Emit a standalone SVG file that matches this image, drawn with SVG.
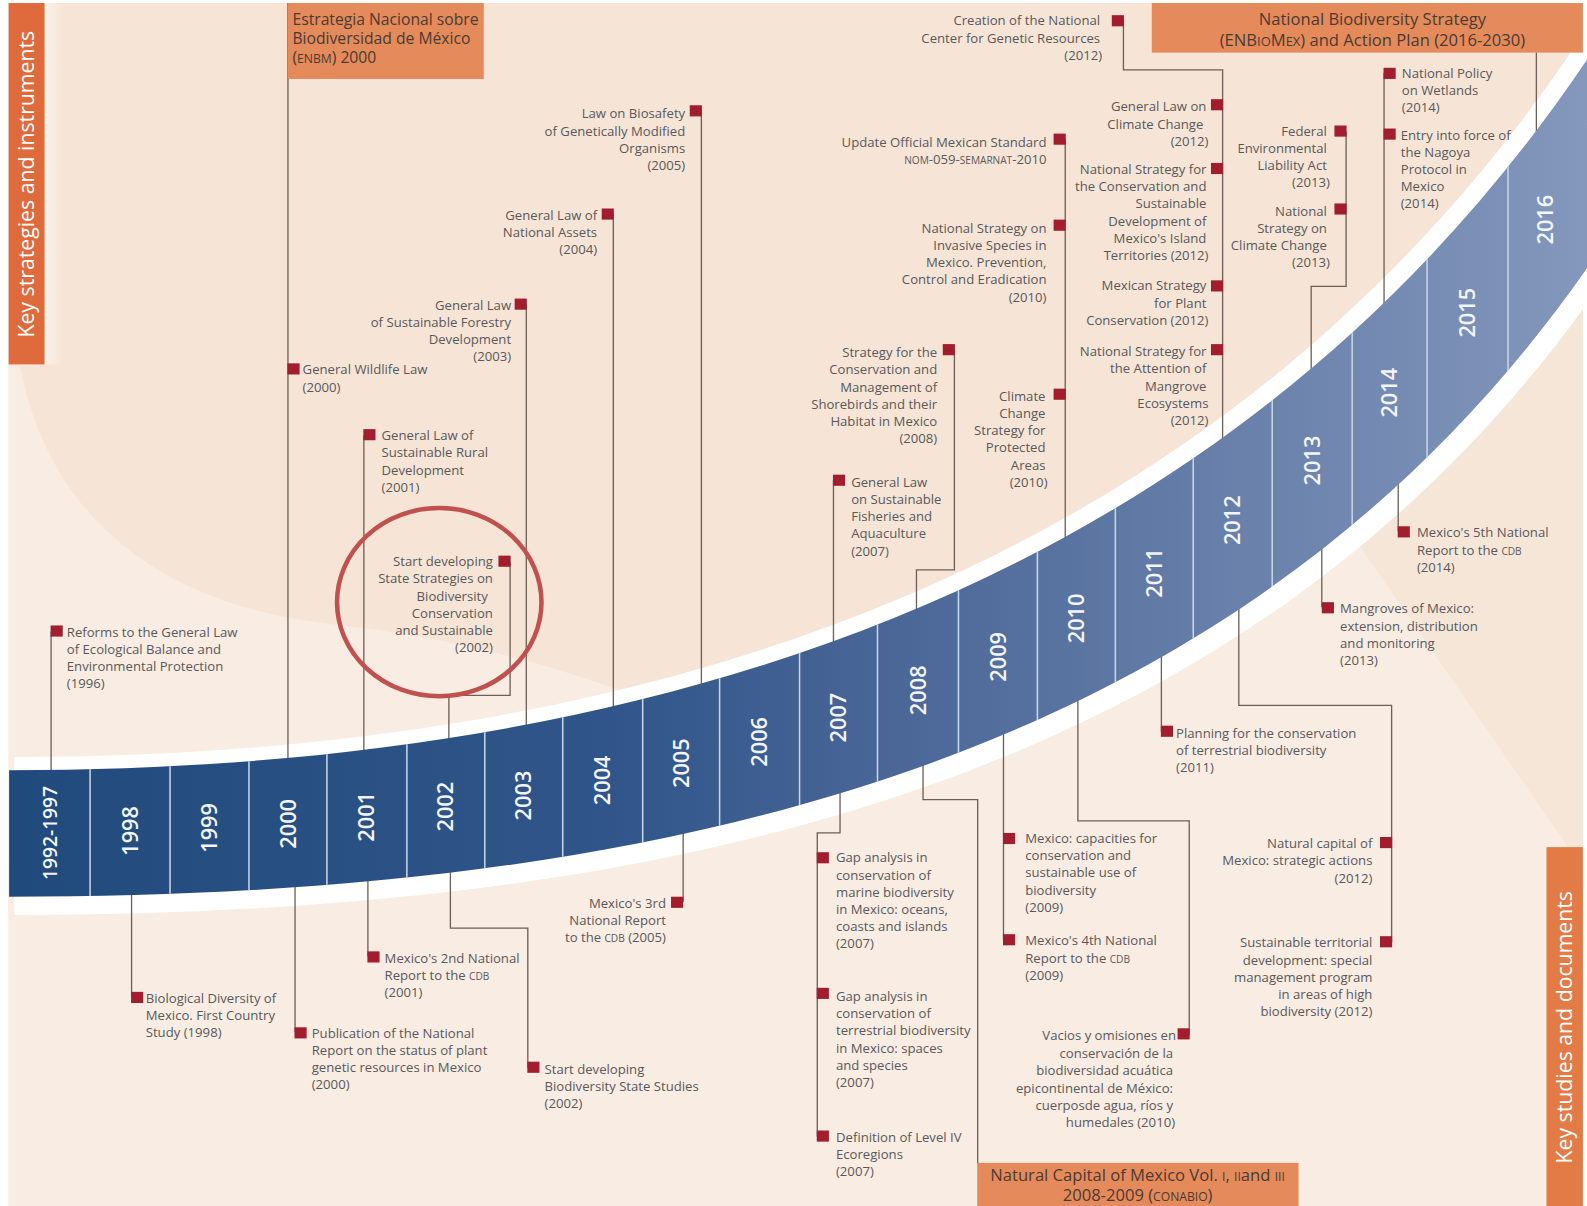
<svg xmlns="http://www.w3.org/2000/svg" width="1587" height="1206" viewBox="0 0 1587 1206">
<defs>
<style>
.t{font-family:'Open Sans','Liberation Sans',sans-serif;font-size:13px;fill:#58585a}
.e{text-anchor:end}
.s{font-size:10px}
.bs{font-size:12px}
.bs2{font-size:12.8px}
.sq{fill:#a21d2e}
.ln{fill:none;stroke:#6b5f57;stroke-width:1.3}
.box{fill:#e58a5b}
.bt{font-family:'Open Sans','Liberation Sans',sans-serif;font-size:15.5px;fill:#4a3b33}
.bt2{font-family:'Open Sans','Liberation Sans',sans-serif;font-size:16.4px;fill:#4a3b33;text-anchor:middle}
.yr{font-family:'Open Sans','Liberation Sans',sans-serif;font-size:21.5px;font-weight:600;fill:#f1f4f9;text-anchor:middle}
.side{font-family:'Open Sans','Liberation Sans',sans-serif;font-size:21px;fill:#ffffff;text-anchor:middle}
.dv{stroke:#c9d7ea;stroke-width:1.5}
.light{fill:#f8ece3}
</style>
<linearGradient id="bandGrad" gradientUnits="userSpaceOnUse" x1="9" y1="0" x2="1568" y2="0">
<stop offset="0" stop-color="#214a7c"/>
<stop offset="0.38" stop-color="#30558a"/>
<stop offset="0.575" stop-color="#4c6898"/>
<stop offset="0.775" stop-color="#6880aa"/>
<stop offset="1" stop-color="#8497bc"/>
</linearGradient>
<linearGradient id="shade" x1="0" y1="0" x2="1" y2="0">
<stop offset="0" stop-color="#fbf3ec" stop-opacity="0.9"/>
<stop offset="1" stop-color="#fbf3ec" stop-opacity="0"/>
</linearGradient>
<clipPath id="bandClip"><path d="M9,761 C692,761 1235,553 1568,59 L1568,265 C1235,741 692,886 9,886 Z"/></clipPath>
</defs>
<rect x="0" y="0" width="1587" height="1206" fill="#ffffff"/>
<g transform="scale(1.0121)">
<g id="background">
<rect x="8.5" y="3" width="1555.5" height="1189" fill="#f6e5d6"/>
<path class="light" d="M8.5,362 L20,362 C50,520 170,600 330,617 C450,630 560,660 660,700 L660,900 L8.5,900 Z"/>
<path class="light" d="M8.5,850 L600,800 L900,700 L1200,540 L1400,360 L1564,150 V1192 H8.5 Z"/>
<path d="M1330,520 L1564,858 L1564,200 Z" fill="#f6e6d8"/>
<rect x="44" y="3" width="18" height="357" fill="url(#shade)"/>
</g>
<path id="band-outline" d="M14,748 C692,747 1235,535 1568,28 L1568,300 C1235,762 692,904 14,904 Z" fill="#ffffff"/>
<g id="connectors" class="ln">
<path d="M50.5,624 V823"/>
<path d="M284.5,3 V814"/>
<path d="M359.5,430 V807"/>
<path d="M504,555 V687 H443.5 V797"/>
<path d="M520,300 V786"/>
<path d="M606,211 V771"/>
<path d="M693,109 V754"/>
<path d="M823.5,474 V709"/>
<path d="M943,346 V563 H905.5 V682"/>
<path d="M1052.5,137 V611"/>
<path d="M1110,20 V69 H1208 V514"/>
<path d="M1330,130 V283 H1295.5 V455"/>
<path d="M1367.5,72 V388"/>
<path d="M1518,52 V217"/>
<path d="M130,821 V985"/>
<path d="M291.5,814 V1020"/>
<path d="M363.5,807 V945"/>
<path d="M445,797 V917 H521.5 V1055"/>
<path d="M675,754 V891"/>
<path d="M830,709 V823 H807.5 V1123"/>
<path d="M912,682 V790 H966 V1149"/>
<path d="M991.5,649 V929"/>
<path d="M1065,611 V811 H1175 V1022"/>
<path d="M1147.5,566 V723"/>
<path d="M1224,514 V697 H1375 V931"/>
<path d="M1306,455 V600"/>
<path d="M1381.5,388 V525"/>
</g>
<g id="timeline">
<path d="M9,761 C692,761 1235,553 1568,59 L1568,265 C1235,741 692,886 9,886 Z" fill="url(#bandGrad)"/>
<g clip-path="url(#bandClip)" class="dv">
<line x1="89" y1="0" x2="89" y2="1206"/>
<line x1="168" y1="0" x2="168" y2="1206"/>
<line x1="246" y1="0" x2="246" y2="1206"/>
<line x1="323" y1="0" x2="323" y2="1206"/>
<line x1="402" y1="0" x2="402" y2="1206"/>
<line x1="479" y1="0" x2="479" y2="1206"/>
<line x1="556" y1="0" x2="556" y2="1206"/>
<line x1="635" y1="0" x2="635" y2="1206"/>
<line x1="711" y1="0" x2="711" y2="1206"/>
<line x1="790" y1="0" x2="790" y2="1206"/>
<line x1="867" y1="0" x2="867" y2="1206"/>
<line x1="947" y1="0" x2="947" y2="1206"/>
<line x1="1025" y1="0" x2="1025" y2="1206"/>
<line x1="1102" y1="0" x2="1102" y2="1206"/>
<line x1="1179" y1="0" x2="1179" y2="1206"/>
<line x1="1257" y1="0" x2="1257" y2="1206"/>
<line x1="1336" y1="0" x2="1336" y2="1206"/>
<line x1="1410" y1="0" x2="1410" y2="1206"/>
<line x1="1490" y1="0" x2="1490" y2="1206"/>
</g>
<text class="yr" style="font-size:19px" transform="translate(49,823) rotate(-90)" y="7">1992-1997</text>
<text class="yr" transform="translate(128.5,821) rotate(-90)" y="7.5">1998</text>
<text class="yr" transform="translate(207,818) rotate(-90)" y="7.5">1999</text>
<text class="yr" transform="translate(284.5,814) rotate(-90)" y="7.5">2000</text>
<text class="yr" transform="translate(362.5,807) rotate(-90)" y="7.5">2001</text>
<text class="yr" transform="translate(440.5,797) rotate(-90)" y="7.5">2002</text>
<text class="yr" transform="translate(517.5,786) rotate(-90)" y="7.5">2003</text>
<text class="yr" transform="translate(595.5,771) rotate(-90)" y="7.5">2004</text>
<text class="yr" transform="translate(673,754) rotate(-90)" y="7.5">2005</text>
<text class="yr" transform="translate(750.5,733) rotate(-90)" y="7.5">2006</text>
<text class="yr" transform="translate(828.5,709) rotate(-90)" y="7.5">2007</text>
<text class="yr" transform="translate(907,682) rotate(-90)" y="7.5">2008</text>
<text class="yr" transform="translate(986,649) rotate(-90)" y="7.5">2009</text>
<text class="yr" transform="translate(1063.5,611) rotate(-90)" y="7.5">2010</text>
<text class="yr" transform="translate(1140.5,566) rotate(-90)" y="7.5">2011</text>
<text class="yr" transform="translate(1218,514) rotate(-90)" y="7.5">2012</text>
<text class="yr" transform="translate(1296.5,455) rotate(-90)" y="7.5">2013</text>
<text class="yr" transform="translate(1373,388) rotate(-90)" y="7.5">2014</text>
<text class="yr" transform="translate(1450,309) rotate(-90)" y="7.5">2015</text>
<text class="yr" transform="translate(1527,217) rotate(-90)" y="7.5">2016</text>
</g>
<g id="side-strategies"><rect x="8.5" y="3" width="35.5" height="357" fill="#df6a3b"/><text class="side" transform="translate(26.5,182) rotate(-90)" y="7.5">Key strategies and instruments</text></g>
<g id="side-studies"><rect x="1528" y="837" width="36" height="355" fill="#e27b46"/><text class="side" transform="translate(1546,1015) rotate(-90)" y="7.5">Key studies and documents</text></g>
<g id="box-enbm"><rect class="box" x="284.5" y="3" width="193.5" height="75"/><text class="bt" x="289" y="24.5"><tspan x="289">Estrategia Nacional sobre</tspan><tspan x="289" dy="19">Biodiversidad de México</tspan><tspan x="289" dy="19">(<tspan class="bs">ENBM</tspan>) 2000</tspan></text></g>
<g id="box-enbiomex"><rect class="box" x="1138" y="3" width="426" height="49"/><text class="bt2" x="1356" y="25"><tspan x="1356">National Biodiversity Strategy</tspan><tspan x="1356" dy="20">(ENB<tspan class="bs2">IO</tspan>M<tspan class="bs2">EX</tspan>) and Action Plan (2016-2030)</tspan></text></g>
<g id="box-natural-capital"><rect class="box" x="965.5" y="1149" width="317.5" height="43"/><text class="bt2" x="1124" y="1166.5"><tspan x="1124">Natural Capital of Mexico Vol. <tspan class="bs">I</tspan>, <tspan class="bs">II</tspan>and <tspan class="bs">III</tspan></tspan><tspan x="1124" dy="20">2008-2009 (<tspan class="bs">CONABIO</tspan>)</tspan></text></g>
<g id="n-reforms-1996"><rect class="sq" x="50" y="618" width="12" height="11"/><text class="t" x="66" y="629"><tspan x="66">Reforms to the General Law</tspan><tspan x="66" dy="17">of Ecological Balance and</tspan><tspan x="66" dy="17">Environmental Protection</tspan><tspan x="66" dy="17">(1996)</tspan></text></g>
<g id="n-wildlife-2000"><rect class="sq" x="284" y="359" width="12" height="11"/><text class="t" x="299" y="370"><tspan x="299">General Wildlife Law</tspan><tspan x="299" dy="17">(2000)</tspan></text></g>
<g id="n-rural-2001"><rect class="sq" x="359" y="424" width="12" height="11"/><text class="t" x="377" y="435"><tspan x="377">General Law of</tspan><tspan x="377" dy="17">Sustainable Rural</tspan><tspan x="377" dy="17">Development</tspan><tspan x="377" dy="17">(2001)</tspan></text></g>
<g id="n-state-strategies-2002"><rect class="sq" x="492.5" y="549" width="12" height="11"/><text class="t e" x="487" y="559.5"><tspan x="487">Start developing</tspan><tspan x="487" dy="17">State Strategies on</tspan><tspan x="482" dy="17">Biodiversity</tspan><tspan x="487" dy="17">Conservation</tspan><tspan x="487" dy="17">and Sustainable</tspan><tspan x="487" dy="17">(2002)</tspan></text></g>
<g id="n-forestry-2003"><rect class="sq" x="508.5" y="295" width="12" height="11"/><text class="t e" x="505" y="306"><tspan x="505">General Law</tspan><tspan x="505" dy="17">of Sustainable Forestry</tspan><tspan x="505" dy="17">Development</tspan><tspan x="505" dy="17">(2003)</tspan></text></g>
<g id="n-assets-2004"><rect class="sq" x="594.5" y="206" width="12" height="11"/><text class="t e" x="590" y="217"><tspan x="590">General Law of</tspan><tspan x="590" dy="17">National Assets</tspan><tspan x="590" dy="17">(2004)</tspan></text></g>
<g id="n-biosafety-2005"><rect class="sq" x="681.5" y="104" width="12" height="11"/><text class="t e" x="677" y="117"><tspan x="677">Law on Biosafety</tspan><tspan x="677" dy="17">of Genetically Modified</tspan><tspan x="677" dy="17">Organisms</tspan><tspan x="677" dy="17">(2005)</tspan></text></g>
<g id="n-fisheries-2007"><rect class="sq" x="823" y="469" width="12" height="11"/><text class="t" x="841" y="481"><tspan x="841">General Law</tspan><tspan x="841" dy="17">on Sustainable</tspan><tspan x="841" dy="17">Fisheries and</tspan><tspan x="841" dy="17">Aquaculture</tspan><tspan x="841" dy="17">(2007)</tspan></text></g>
<g id="n-shorebirds-2008"><rect class="sq" x="931.5" y="340" width="12" height="11"/><text class="t e" x="926" y="353"><tspan x="926">Strategy for the</tspan><tspan x="926" dy="17">Conservation and</tspan><tspan x="926" dy="17">Management of</tspan><tspan x="926" dy="17">Shorebirds and their</tspan><tspan x="926" dy="17">Habitat in Mexico</tspan><tspan x="926" dy="17">(2008)</tspan></text></g>
<g id="n-nom-059"><rect class="sq" x="1041" y="132" width="12" height="11"/><text class="t e" x="1034" y="145"><tspan x="1034">Update Official Mexican Standard</tspan><tspan x="1034" dy="17"><tspan class="s">NOM</tspan>-059-<tspan class="s">SEMARNAT</tspan>-2010</tspan></text></g>
<g id="n-invasive-2010"><rect class="sq" x="1041" y="217" width="12" height="11"/><text class="t e" x="1034" y="230"><tspan x="1034">National Strategy on</tspan><tspan x="1034" dy="17">Invasive Species in</tspan><tspan x="1034" dy="17">Mexico. Prevention,</tspan><tspan x="1034" dy="17">Control and Eradication</tspan><tspan x="1034" dy="17">(2010)</tspan></text></g>
<g id="n-climate-pa-2010"><rect class="sq" x="1041" y="384" width="12" height="11"/><text class="t e" x="1033" y="396"><tspan x="1033">Climate</tspan><tspan x="1033" dy="17">Change</tspan><tspan x="1033" dy="17">Strategy for</tspan><tspan x="1033" dy="17">Protected</tspan><tspan x="1033" dy="17">Areas</tspan><tspan x="1035" dy="17">(2010)</tspan></text></g>
<g id="n-genetic-2012"><rect class="sq" x="1098.5" y="15" width="12" height="11"/><text class="t e" x="1087" y="25"><tspan x="1087">Creation of the National</tspan><tspan x="1087" dy="17">Center for Genetic Resources</tspan><tspan x="1089" dy="17">(2012)</tspan></text></g>
<g id="n-climate-law-2012"><rect class="sq" x="1196.5" y="98" width="12" height="11"/><text class="t e" x="1192" y="110"><tspan x="1192">General Law on</tspan><tspan x="1189" dy="17">Climate Change</tspan><tspan x="1194" dy="17">(2012)</tspan></text></g>
<g id="n-island-2012"><rect class="sq" x="1196.5" y="161" width="12" height="11"/><text class="t e" x="1192" y="172"><tspan x="1192">National Strategy for</tspan><tspan x="1192" dy="17">the Conservation and</tspan><tspan x="1192" dy="17">Sustainable</tspan><tspan x="1192" dy="17">Development of</tspan><tspan x="1192" dy="17">Mexico's Island</tspan><tspan x="1194" dy="17">Territories  (2012)</tspan></text></g>
<g id="n-plant-2012"><rect class="sq" x="1196.5" y="277" width="12" height="11"/><text class="t e" x="1192" y="287"><tspan x="1192">Mexican Strategy</tspan><tspan x="1192" dy="17">for Plant</tspan><tspan x="1194" dy="17">Conservation  (2012)</tspan></text></g>
<g id="n-mangrove-strategy-2012"><rect class="sq" x="1196.5" y="340" width="12" height="11"/><text class="t e" x="1192" y="352"><tspan x="1192">National Strategy for</tspan><tspan x="1192" dy="17">the Attention of</tspan><tspan x="1192" dy="17">Mangrove</tspan><tspan x="1194" dy="17">Ecosystems</tspan><tspan x="1194" dy="17">(2012)</tspan></text></g>
<g id="n-liability-2013"><rect class="sq" x="1318.5" y="124" width="12" height="11"/><text class="t e" x="1311" y="134"><tspan x="1311">Federal</tspan><tspan x="1311" dy="17">Environmental</tspan><tspan x="1311" dy="17">Liability Act</tspan><tspan x="1314" dy="17">(2013)</tspan></text></g>
<g id="n-ns-climate-2013"><rect class="sq" x="1318.5" y="201" width="12" height="11"/><text class="t e" x="1311" y="213"><tspan x="1311">National</tspan><tspan x="1311" dy="17">Strategy on</tspan><tspan x="1311" dy="17">Climate Change</tspan><tspan x="1314" dy="17">(2013)</tspan></text></g>
<g id="n-wetlands-2014"><rect class="sq" x="1367" y="67" width="12" height="11"/><text class="t" x="1385" y="77"><tspan x="1385">National Policy</tspan><tspan x="1385" dy="17">on Wetlands</tspan><tspan x="1385" dy="17">(2014)</tspan></text></g>
<g id="n-nagoya-2014"><rect class="sq" x="1367" y="127" width="12" height="11"/><text class="t" x="1384" y="138"><tspan x="1384">Entry into force of</tspan><tspan x="1384" dy="17">the Nagoya</tspan><tspan x="1384" dy="17">Protocol in</tspan><tspan x="1384" dy="17">Mexico</tspan><tspan x="1384" dy="17">(2014)</tspan></text></g>
<g id="n-country-study-1998"><rect class="sq" x="129.5" y="980" width="12" height="11"/><text class="t" x="144" y="991"><tspan x="144">Biological Diversity of</tspan><tspan x="144" dy="17">Mexico. First Country</tspan><tspan x="144" dy="17">Study  (1998)</tspan></text></g>
<g id="n-plant-genetic-2000"><rect class="sq" x="291" y="1015" width="12" height="11"/><text class="t" x="308" y="1026"><tspan x="308">Publication of the National</tspan><tspan x="308" dy="16.5">Report on the status of plant</tspan><tspan x="308" dy="16.5">genetic resources in Mexico</tspan><tspan x="308" dy="16.5">(2000)</tspan></text></g>
<g id="n-2nd-report-2001"><rect class="sq" x="363" y="940" width="12" height="11"/><text class="t" x="380" y="951"><tspan x="380">Mexico's 2nd National</tspan><tspan x="380" dy="17">Report to the <tspan class="s">CDB</tspan></tspan><tspan x="380" dy="17">(2001)</tspan></text></g>
<g id="n-state-studies-2002"><rect class="sq" x="521" y="1049" width="12" height="11"/><text class="t" x="538" y="1061"><tspan x="538">Start developing</tspan><tspan x="538" dy="17">Biodiversity State Studies</tspan><tspan x="538" dy="17">(2002)</tspan></text></g>
<g id="n-3rd-report-2005"><rect class="sq" x="663" y="886" width="12" height="11"/><text class="t e" x="658" y="897"><tspan x="658">Mexico's 3rd</tspan><tspan x="658" dy="17">National Report</tspan><tspan x="658" dy="17">to the <tspan class="s">CDB</tspan> (2005)</tspan></text></g>
<g id="n-gap-marine-2007"><rect class="sq" x="807" y="842" width="12" height="11"/><text class="t" x="826" y="852"><tspan x="826">Gap analysis in</tspan><tspan x="826" dy="17">conservation of</tspan><tspan x="826" dy="17">marine biodiversity</tspan><tspan x="826" dy="17">in Mexico: oceans,</tspan><tspan x="826" dy="17">coasts and islands</tspan><tspan x="826" dy="17">(2007)</tspan></text></g>
<g id="n-gap-terrestrial-2007"><rect class="sq" x="807" y="976" width="12" height="11"/><text class="t" x="826" y="989"><tspan x="826">Gap analysis in</tspan><tspan x="826" dy="17">conservation of</tspan><tspan x="826" dy="17">terrestrial biodiversity</tspan><tspan x="826" dy="17">in Mexico: spaces</tspan><tspan x="826" dy="17">and species</tspan><tspan x="826" dy="17">(2007)</tspan></text></g>
<g id="n-ecoregions-2007"><rect class="sq" x="807" y="1117" width="12" height="11"/><text class="t" x="826" y="1128"><tspan x="826">Definition of Level IV</tspan><tspan x="826" dy="17">Ecoregions</tspan><tspan x="826" dy="17">(2007)</tspan></text></g>
<g id="n-capacities-2009"><rect class="sq" x="991" y="823" width="12" height="11"/><text class="t" x="1013" y="833"><tspan x="1013">Mexico: capacities for</tspan><tspan x="1013" dy="17">conservation and</tspan><tspan x="1013" dy="17">sustainable use of</tspan><tspan x="1013" dy="17">biodiversity</tspan><tspan x="1013" dy="17">(2009)</tspan></text></g>
<g id="n-4th-report-2009"><rect class="sq" x="991" y="923" width="12" height="11"/><text class="t" x="1013" y="934"><tspan x="1013">Mexico's 4th National</tspan><tspan x="1013" dy="17">Report to the <tspan class="s">CDB</tspan></tspan><tspan x="1013" dy="17">(2009)</tspan></text></g>
<g id="n-vacios-2010"><rect class="sq" x="1163.5" y="1016" width="12" height="11"/><text class="t e" x="1162" y="1028"><tspan x="1162">Vacios y omisiones en</tspan><tspan x="1159" dy="17.2">conservación de la</tspan><tspan x="1159" dy="17.2">biodiversidad acuática</tspan><tspan x="1159" dy="17.2">epicontinental de México:</tspan><tspan x="1159" dy="17.2">cuerposde agua, ríos y</tspan><tspan x="1161" dy="17.2">humedales (2010)</tspan></text></g>
<g id="n-planning-2011"><rect class="sq" x="1147" y="717" width="12" height="11"/><text class="t" x="1162" y="729"><tspan x="1162">Planning for the conservation</tspan><tspan x="1162" dy="17">of terrestrial biodiversity</tspan><tspan x="1162" dy="17">(2011)</tspan></text></g>
<g id="n-natcap-actions-2012"><rect class="sq" x="1363.5" y="827" width="12" height="11"/><text class="t e" x="1356" y="838"><tspan x="1356">Natural capital of</tspan><tspan x="1356" dy="17">Mexico: strategic actions</tspan><tspan x="1356" dy="17">(2012)</tspan></text></g>
<g id="n-territorial-2012"><rect class="sq" x="1363.5" y="925" width="12" height="11"/><text class="t e" x="1356" y="936"><tspan x="1356">Sustainable territorial</tspan><tspan x="1356" dy="17">development: special</tspan><tspan x="1356" dy="17">management program</tspan><tspan x="1356" dy="17">in areas of high</tspan><tspan x="1356" dy="17">biodiversity (2012)</tspan></text></g>
<g id="n-mangroves-2013"><rect class="sq" x="1306" y="595" width="12" height="11"/><text class="t" x="1324" y="606"><tspan x="1324">Mangroves of Mexico:</tspan><tspan x="1324" dy="17">extension, distribution</tspan><tspan x="1324" dy="17">and monitoring</tspan><tspan x="1324" dy="17">(2013)</tspan></text></g>
<g id="n-5th-report-2014"><rect class="sq" x="1381" y="520" width="12" height="11"/><text class="t" x="1400" y="531"><tspan x="1400">Mexico's 5th National</tspan><tspan x="1400" dy="17">Report to the <tspan class="s">CDB</tspan></tspan><tspan x="1400" dy="17">(2014)</tspan></text></g>
<ellipse id="highlight-circle" cx="434" cy="595" rx="101" ry="93" fill="none" stroke="#c1514e" stroke-width="4.5"/>
</g>
</svg>
